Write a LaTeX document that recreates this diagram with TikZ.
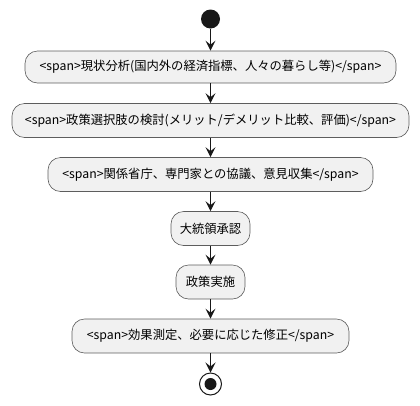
\documentclass[tikz,border=0pt]{standalone}
\usepackage{fontspec}
\setmainfont{Noto Sans CJK JP}
\usetikzlibrary{arrows.meta}
\definecolor{boxfill}{HTML}{F1F1F1}
\definecolor{ink}{HTML}{181818}
\tikzset{
  act/.style={draw=ink!70, line width=0.6pt, fill=boxfill, rounded corners=12.5pt,
    minimum height=34pt, inner sep=0pt, font=\fontsize{12.3}{14}\selectfont, text=black},
  flow/.style={draw=ink, line width=1pt, -{Stealth[length=10pt,width=10pt,inset=4pt]}},
}
\begin{document}
\begin{tikzpicture}[x=1pt,y=-1pt]
\useasboundingbox (0,0) rectangle (420,405);
\node[circle, fill=ink, minimum size=19pt, inner sep=0pt] (start) at (210.5,19) {};
\node[act, minimum width=371pt, minimum height=32pt] (b1) at (210.5,67) {<span>現状分析(国内外の経済指標、人々の暮らし等)</span>};
\node[act, minimum width=397pt] (b2) at (210.5,120.5) {<span>政策選択肢の検討(メリット/デメリット比較、評価)</span>};
\node[act, minimum width=325pt] (b3) at (210.5,174.5) {<span>関係省庁、専門家との協議、意見収集</span>};
\node[act, minimum width=79pt] (b4) at (210.5,228.5) {大統領承認};
\node[act, minimum width=69pt] (b5) at (210.5,282) {政策実施};
\node[act, minimum width=277pt] (b6) at (210.5,336) {<span>効果測定、必要に応じた修正</span>};
\node[circle, draw=ink, line width=1pt, fill=white, minimum size=22pt, inner sep=0pt] (stop) at (210.5,384) {};
\node[circle, fill=ink, minimum size=12pt, inner sep=0pt] (stopin) at (stop) {};
\draw[flow] (start.south) -- (b1.north);
\draw[flow] (b1.south) -- (b2.north);
\draw[flow] (b2.south) -- (b3.north);
\draw[flow] (b3.south) -- (b4.north);
\draw[flow] (b4.south) -- (b5.north);
\draw[flow] (b5.south) -- (b6.north);
\draw[flow] (b6.south) -- (stop.north);
\end{tikzpicture}
\end{document}
